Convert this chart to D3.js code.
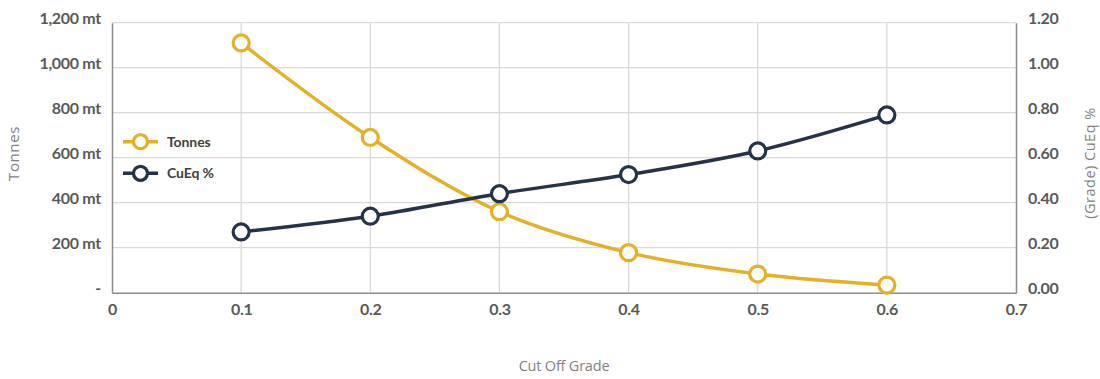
<!DOCTYPE html>
<html>
<head>
<meta charset="utf-8">
<script src="https://cdn.jsdelivr.net/npm/d3@7"></script>
<style>
  html, body { margin: 0; padding: 0; background: #fff; }
  svg { display: block; font-family: "Open Sans", "Noto Sans", sans-serif; }
</style>
</head>
<body>
<svg id="chart" width="1100" height="379"></svg>
<script>
// Cut-off grade sensitivity: tonnage and grade
const cutOffGrades = [0.1, 0.2, 0.3, 0.4, 0.5, 0.6];
const tonnes = [1110, 690, 360, 178, 83, 34];          // million tonnes
const cuEq = [0.27, 0.34, 0.44, 0.525, 0.63, 0.79];    // CuEq %
const xTicks = [0, 0.1, 0.2, 0.3, 0.4, 0.5, 0.6, 0.7];
const leftTicks = [0, 200, 400, 600, 800, 1000, 1200];
const rightTicks = [0, 0.2, 0.4, 0.6, 0.8, 1.0, 1.2];
const seriesNames = ["Tonnes", "CuEq %"];
const seriesColors = ["#E5AF26", "#263247"];

const svg = d3.select("#chart");
const m = { left: 112, right: 1016, top: 22.7, bottom: 292.7 };

const x = d3.scaleLinear().domain([0, 0.7]).range([m.left, m.right]);
const yL = d3.scaleLinear().domain([0, 1200]).range([m.bottom, m.top]);
const yR = d3.scaleLinear().domain([0, 1.2]).range([m.bottom, m.top]);

// gridlines
const grid = svg.append("g");
grid.selectAll("line.h").data(leftTicks.slice(1)).join("line")
  .attr("x1", m.left).attr("x2", m.right)
  .attr("y1", d => yL(d)).attr("y2", d => yL(d))
  .attr("stroke", "#d9d9d9").attr("stroke-width", 1.3);
grid.selectAll("line.v").data(xTicks.slice(1, -1)).join("line")
  .attr("x1", d => x(d)).attr("x2", d => x(d))
  .attr("y1", m.top).attr("y2", m.bottom)
  .attr("stroke", "#d9d9d9").attr("stroke-width", 1.3);

const tickStyle = sel => sel.selectAll("text")
  .style("font-family", "Lato, 'Open Sans', sans-serif")
  .attr("font-size", 16).attr("font-weight", 700)
  .attr("fill", "#595959").attr("letter-spacing", "-0.3");

// left axis
const leftAxis = svg.append("g").attr("transform", `translate(${m.left},0)`)
  .call(d3.axisLeft(yL).tickValues(leftTicks).tickSize(0).tickPadding(11)
    .tickFormat(d => d === 0 ? "-" : d3.format(",")(d) + " mt"));
leftAxis.select(".domain").attr("stroke", "#8c8c8c").attr("stroke-width", 1.5);
tickStyle(leftAxis);
leftAxis.selectAll("text").attr("dy", "0.05em");

// right axis
const rightAxis = svg.append("g").attr("transform", `translate(${m.right},0)`)
  .call(d3.axisRight(yR).tickValues(rightTicks).tickSize(0).tickPadding(12)
    .tickFormat(d3.format(".2f")));
rightAxis.select(".domain").attr("stroke", "#8c8c8c").attr("stroke-width", 1.5);
tickStyle(rightAxis);
rightAxis.selectAll("text").attr("dy", "0.05em");

// bottom axis
const bottomAxis = svg.append("g").attr("transform", `translate(0,${m.bottom})`)
  .call(d3.axisBottom(x).tickValues(xTicks).tickSize(0).tickPadding(11)
    .tickFormat(d => d === 0 ? "0" : d3.format(".1f")(d)));
bottomAxis.select(".domain").attr("stroke", "#8c8c8c").attr("stroke-width", 1.5);
tickStyle(bottomAxis);

// axis titles
svg.append("text").attr("transform", "translate(19,153.5) rotate(-90)")
  .attr("text-anchor", "middle").attr("font-size", 15).attr("fill", "#7f7f7f")
  .attr("letter-spacing", "0.6")
  .text("Tonnes");
svg.append("text").attr("transform", "translate(1095,163) rotate(-90)")
  .attr("text-anchor", "middle").attr("font-size", 14.5).attr("fill", "#7f7f7f")
  .attr("letter-spacing", "0.5")
  .text("(Grade) CuEq %");
svg.append("text").attr("x", (m.left + m.right) / 2).attr("y", 371)
  .attr("text-anchor", "middle").attr("font-size", 14.5).attr("fill", "#7f7f7f")
  .attr("letter-spacing", "-0.2")
  .text("Cut Off Grade");

// series
const series = [
  { name: seriesNames[0], color: seriesColors[0], values: tonnes, y: yL },
  { name: seriesNames[1], color: seriesColors[1], values: cuEq, y: yR }
];

series.forEach(s => {
  const pts = cutOffGrades.map((g, i) => [x(g), s.y(s.values[i])]);
  svg.append("path")
    .attr("d", d3.line().curve(d3.curveCatmullRom.alpha(0.5))(pts))
    .attr("fill", "none").attr("stroke", s.color).attr("stroke-width", 3.5);
  svg.append("g").selectAll("circle").data(pts).join("circle")
    .attr("cx", d => d[0]).attr("cy", d => d[1]).attr("r", 8)
    .attr("fill", "#fff").attr("stroke", s.color).attr("stroke-width", 3.2);
});

// legend
const legend = svg.append("g");
series.forEach((s, i) => {
  const ly = 141.7 + i * 31.6;
  legend.append("line").attr("x1", 123).attr("x2", 158).attr("y1", ly).attr("y2", ly)
    .attr("stroke", s.color).attr("stroke-width", 3.5);
  legend.append("circle").attr("cx", 140.5).attr("cy", ly).attr("r", 7)
    .attr("fill", "#fff").attr("stroke", s.color).attr("stroke-width", 3.2);
  legend.append("text").attr("x", 167).attr("y", ly).attr("dy", "0.35em")
    .style("font-family", "Lato, 'Open Sans', sans-serif")
    .attr("font-size", 14).attr("font-weight", 700).attr("fill", "#404040")
    .attr("letter-spacing", "-0.1")
    .text(s.name);
});
</script>
</body>
</html>
